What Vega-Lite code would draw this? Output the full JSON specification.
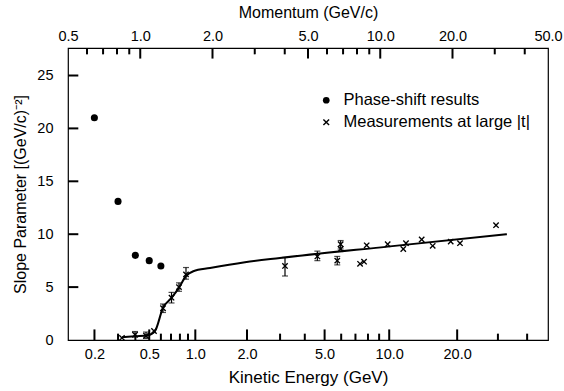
{
  "$schema": "https://vega.github.io/schema/vega-lite/v6.json",
  "width": 480,
  "height": 292,
  "autosize": "none",
  "padding": {"left": 68, "top": 48, "right": 16, "bottom": 51},
  "background": "white",
  "config": {
    "view": {"stroke": "black", "strokeWidth": 1.2},
    "font": "Liberation Sans",
    "axis": {
      "domain": false, "grid": false, "ticks": false,
      "labelFont": "Liberation Sans", "labelFontSize": 14.5, "labelColor": "black",
      "labelFlush": false, "labelOverlap": false, "labelBound": false,
      "titleFont": "Liberation Sans", "titleFontSize": 16, "titleFontWeight": "normal", "titleColor": "black"
    }
  },
  "datasets": {
    "curve": [
      {"p": 0.839, "v": 0.25}, {"p": 0.951, "v": 0.35}, {"p": 1.077, "v": 0.45},
      {"p": 1.152, "v": 0.85}, {"p": 1.244, "v": 3.05}, {"p": 1.352, "v": 4.0},
      {"p": 1.45, "v": 4.95}, {"p": 1.551, "v": 6.05}, {"p": 1.664, "v": 6.5},
      {"p": 1.953, "v": 6.8}, {"p": 2.73, "v": 7.35}, {"p": 3.82, "v": 7.75},
      {"p": 10.98, "v": 8.85}, {"p": 33.7, "v": 10.0}
    ],
    "phase": [
      {"p": 0.644, "v": 21.0, "s": "Phase-shift results"},
      {"p": 0.808, "v": 13.1, "s": "Phase-shift results"},
      {"p": 0.954, "v": 8.0, "s": "Phase-shift results"},
      {"p": 1.09, "v": 7.5, "s": "Phase-shift results"},
      {"p": 1.219, "v": 7.0, "s": "Phase-shift results"}
    ],
    "meas": [
      {"p": 0.839, "v": 0.2, "s": "Measurements at large |t|"},
      {"p": 0.951, "v": 0.5, "s": "Measurements at large |t|"},
      {"p": 1.057, "v": 0.4, "s": "Measurements at large |t|"},
      {"p": 1.141, "v": 0.85, "s": "Measurements at large |t|"},
      {"p": 1.244, "v": 3.0, "s": "Measurements at large |t|"},
      {"p": 1.35, "v": 4.0, "s": "Measurements at large |t|"},
      {"p": 1.45, "v": 5.0, "s": "Measurements at large |t|"},
      {"p": 1.551, "v": 6.2, "s": "Measurements at large |t|"},
      {"p": 4.01, "v": 7.0, "s": "Measurements at large |t|"},
      {"p": 5.47, "v": 7.9, "s": "Measurements at large |t|"},
      {"p": 6.62, "v": 7.5, "s": "Measurements at large |t|"},
      {"p": 6.84, "v": 9.05, "s": "Measurements at large |t|"},
      {"p": 6.84, "v": 8.6, "s": "Measurements at large |t|"},
      {"p": 8.24, "v": 7.2, "s": "Measurements at large |t|"},
      {"p": 8.56, "v": 7.4, "s": "Measurements at large |t|"},
      {"p": 8.78, "v": 8.95, "s": "Measurements at large |t|"},
      {"p": 10.74, "v": 9.05, "s": "Measurements at large |t|"},
      {"p": 12.47, "v": 8.6, "s": "Measurements at large |t|"},
      {"p": 12.8, "v": 9.15, "s": "Measurements at large |t|"},
      {"p": 14.88, "v": 9.5, "s": "Measurements at large |t|"},
      {"p": 16.54, "v": 8.9, "s": "Measurements at large |t|"},
      {"p": 19.66, "v": 9.3, "s": "Measurements at large |t|"},
      {"p": 21.49, "v": 9.15, "s": "Measurements at large |t|"},
      {"p": 30.37, "v": 10.85, "s": "Measurements at large |t|"}
    ],
    "err": [
      {"p": 0.951, "lo": 0.3, "hi": 0.8},
      {"p": 1.057, "lo": 0.15, "hi": 0.75},
      {"p": 1.244, "lo": 2.6, "hi": 3.4},
      {"p": 1.35, "lo": 3.5, "hi": 4.5},
      {"p": 1.45, "lo": 4.6, "hi": 5.4},
      {"p": 1.551, "lo": 5.75, "hi": 6.85},
      {"p": 4.01, "lo": 6.05, "hi": 7.8},
      {"p": 5.47, "lo": 7.5, "hi": 8.4},
      {"p": 6.62, "lo": 7.1, "hi": 7.9},
      {"p": 6.84, "lo": 8.6, "hi": 9.4}
    ],
    "bottomMajor": [{"p": 0.644444}, {"p": 1.090079}, {"p": 1.696038}, {"p": 2.784437}, {"p": 5.863678}, {"p": 10.898}, {"p": 20.917}],
    "bottomMinor": [{"p": 0.808061}, {"p": 0.954263}, {"p": 1.218986}, {"p": 1.342975}, {"p": 1.463296}, {"p": 1.580788}, {"p": 3.82487}, {"p": 4.848317}, {"p": 6.874537}, {"p": 7.882627}, {"p": 8.888889}, {"p": 9.893882}, {"p": 30.924}, {"p": 40.928}],
    "topMajor": [{"p": 1}, {"p": 2}, {"p": 5}, {"p": 10}, {"p": 20}],
    "topMinor": [{"p": 0.6}, {"p": 0.7}, {"p": 0.8}, {"p": 0.9}, {"p": 3}, {"p": 4}, {"p": 6}, {"p": 7}, {"p": 8}, {"p": 9}, {"p": 30}, {"p": 40}],
    "leftTicks": [{"v": 5}, {"v": 10}, {"v": 15}, {"v": 20}, {"v": 25}]
  },
  "resolve": {"axis": {"x": "independent"}},
  "layer": [
    {
      "data": {"name": "curve"},
      "mark": {"type": "line", "color": "black", "strokeWidth": 2, "interpolate": "monotone"},
      "encoding": {
        "x": {"field": "p", "type": "quantitative",
          "scale": {"type": "log", "domain": [0.5, 50], "nice": false},
          "axis": {"orient": "bottom",
            "values": [0.644444, 1.090079, 1.696038, 2.784437, 5.863678, 10.898, 20.917],
            "labelExpr": "format(sqrt(datum.value*datum.value+0.880354)-0.938272, '.1f')",
            "labelPadding": 7,
            "title": "Kinetic Energy (GeV)", "titleFontSize": 17, "titlePadding": 9}},
        "y": {"field": "v", "type": "quantitative",
          "scale": {"domain": [0, 27.6], "nice": false, "zero": false},
          "axis": {"orient": "left", "values": [0, 5, 10, 15, 20, 25], "labelPadding": 15,
            "title": "Slope Parameter  [(GeV/c)⁻²]", "titlePadding": 8}}
      }
    },
    {
      "data": {"name": "err"},
      "mark": {"type": "errorbar", "color": "black", "ticks": {"size": 6, "thickness": 1.2}, "rule": {"strokeWidth": 1.2}},
      "encoding": {
        "x": {"field": "p", "type": "quantitative",
          "scale": {"type": "log", "domain": [0.5, 50], "nice": false}, "axis": null},
        "y": {"field": "lo", "type": "quantitative",
          "scale": {"domain": [0, 27.6], "nice": false, "zero": false},
          "axis": {"orient": "left", "values": [0, 5, 10, 15, 20, 25], "labelPadding": 15,
            "title": "Slope Parameter  [(GeV/c)⁻²]", "titlePadding": 8}},
        "y2": {"field": "hi"}
      }
    },
    {
      "data": {"name": "phase"},
      "mark": {"type": "point", "filled": true, "color": "black", "opacity": 1, "size": 50},
      "encoding": {
        "x": {"field": "p", "type": "quantitative",
          "scale": {"type": "log", "domain": [0.5, 50], "nice": false}, "axis": null},
        "y": {"field": "v", "type": "quantitative",
          "scale": {"domain": [0, 27.6], "nice": false, "zero": false},
          "axis": {"orient": "left", "values": [0, 5, 10, 15, 20, 25], "labelPadding": 15,
            "title": "Slope Parameter  [(GeV/c)⁻²]", "titlePadding": 8}},
        "shape": {"field": "s", "type": "nominal",
          "scale": {"domain": ["Phase-shift results", "Measurements at large |t|"],
            "range": ["circle", "M-1,-0.7L-0.7,-1L0,-0.3L0.7,-1L1,-0.7L0.3,0L1,0.7L0.7,1L0,0.3L-0.7,1L-1,0.7L-0.3,0Z"]},
          "legend": {"title": null, "orient": "none", "legendX": 250, "legendY": 44,
            "labelFont": "Liberation Sans", "labelFontSize": 16.5, "labelColor": "black", "labelLimit": 400,
            "symbolSize": 45, "labelOffset": 9, "rowPadding": 5, "padding": 0,
            "symbolFillColor": "black", "symbolStrokeWidth": 0}}
      }
    },
    {
      "data": {"name": "meas"},
      "mark": {"type": "point", "filled": true, "color": "black", "opacity": 1, "size": 40},
      "encoding": {
        "x": {"field": "p", "type": "quantitative",
          "scale": {"type": "log", "domain": [0.5, 50], "nice": false},
          "axis": {"orient": "top",
            "values": [0.5, 1, 2, 5, 10, 20, 50], "format": ".1f", "labelPadding": 5,
            "title": "Momentum (GeV/c)", "titleFontSize": 16, "titlePadding": 8}},
        "y": {"field": "v", "type": "quantitative",
          "scale": {"domain": [0, 27.6], "nice": false, "zero": false},
          "axis": {"orient": "left", "values": [0, 5, 10, 15, 20, 25], "labelPadding": 15,
            "title": "Slope Parameter  [(GeV/c)⁻²]", "titlePadding": 8}},
        "shape": {"field": "s", "type": "nominal",
          "scale": {"domain": ["Phase-shift results", "Measurements at large |t|"],
            "range": ["circle", "M-1,-0.7L-0.7,-1L0,-0.3L0.7,-1L1,-0.7L0.3,0L1,0.7L0.7,1L0,0.3L-0.7,1L-1,0.7L-0.3,0Z"]},
          "legend": {"title": null, "orient": "none", "legendX": 250, "legendY": 44,
            "labelFont": "Liberation Sans", "labelFontSize": 16.5, "labelColor": "black", "labelLimit": 400,
            "symbolSize": 45, "labelOffset": 9, "rowPadding": 5, "padding": 0,
            "symbolFillColor": "black", "symbolStrokeWidth": 0}}
      }
    },
    {
      "data": {"name": "bottomMajor"},
      "mark": {"type": "rule", "color": "black", "strokeWidth": 2},
      "encoding": {
        "x": {"field": "p", "type": "quantitative",
          "scale": {"type": "log", "domain": [0.5, 50], "nice": false}, "axis": null},
        "y": {"datum": 0, "type": "quantitative",
          "scale": {"domain": [0, 27.6], "nice": false, "zero": false},
          "axis": {"orient": "left", "values": [0, 5, 10, 15, 20, 25], "labelPadding": 15,
            "title": "Slope Parameter  [(GeV/c)⁻²]", "titlePadding": 8}},
        "y2": {"datum": 1.0}
      }
    },
    {
      "data": {"name": "bottomMinor"},
      "mark": {"type": "rule", "color": "black", "strokeWidth": 2},
      "encoding": {
        "x": {"field": "p", "type": "quantitative",
          "scale": {"type": "log", "domain": [0.5, 50], "nice": false}, "axis": null},
        "y": {"datum": 0, "type": "quantitative",
          "scale": {"domain": [0, 27.6], "nice": false, "zero": false},
          "axis": {"orient": "left", "values": [0, 5, 10, 15, 20, 25], "labelPadding": 15,
            "title": "Slope Parameter  [(GeV/c)⁻²]", "titlePadding": 8}},
        "y2": {"datum": 0.6}
      }
    },
    {
      "data": {"name": "topMajor"},
      "mark": {"type": "rule", "color": "black", "strokeWidth": 2},
      "encoding": {
        "x": {"field": "p", "type": "quantitative",
          "scale": {"type": "log", "domain": [0.5, 50], "nice": false}, "axis": null},
        "y": {"datum": 27.6, "type": "quantitative",
          "scale": {"domain": [0, 27.6], "nice": false, "zero": false},
          "axis": {"orient": "left", "values": [0, 5, 10, 15, 20, 25], "labelPadding": 15,
            "title": "Slope Parameter  [(GeV/c)⁻²]", "titlePadding": 8}},
        "y2": {"datum": 26.6}
      }
    },
    {
      "data": {"name": "topMinor"},
      "mark": {"type": "rule", "color": "black", "strokeWidth": 2},
      "encoding": {
        "x": {"field": "p", "type": "quantitative",
          "scale": {"type": "log", "domain": [0.5, 50], "nice": false}, "axis": null},
        "y": {"datum": 27.6, "type": "quantitative",
          "scale": {"domain": [0, 27.6], "nice": false, "zero": false},
          "axis": {"orient": "left", "values": [0, 5, 10, 15, 20, 25], "labelPadding": 15,
            "title": "Slope Parameter  [(GeV/c)⁻²]", "titlePadding": 8}},
        "y2": {"datum": 27.0}
      }
    },
    {
      "data": {"name": "leftTicks"},
      "mark": {"type": "rule", "color": "black", "strokeWidth": 2},
      "encoding": {
        "x": {"datum": 0.5, "type": "quantitative",
          "scale": {"type": "log", "domain": [0.5, 50], "nice": false}, "axis": null},
        "x2": {"datum": 0.552},
        "y": {"field": "v", "type": "quantitative",
          "scale": {"domain": [0, 27.6], "nice": false, "zero": false},
          "axis": {"orient": "left", "values": [0, 5, 10, 15, 20, 25], "labelPadding": 15,
            "title": "Slope Parameter  [(GeV/c)⁻²]", "titlePadding": 8}}
      }
    }
  ]
}
